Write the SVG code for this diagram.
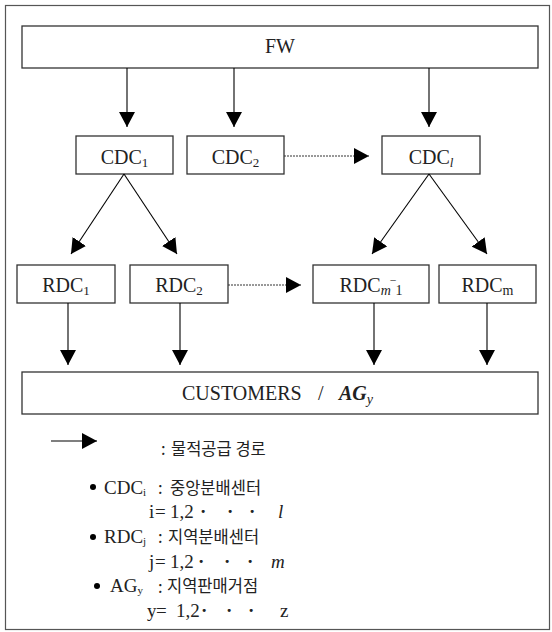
<svg xmlns="http://www.w3.org/2000/svg" width="552" height="632" viewBox="0 0 552 632">
<style>
.box{fill:#fff;stroke:#333;stroke-width:1.3}
.lbl{font-family:"Liberation Serif","Times New Roman",serif;font-size:20px;fill:#222}
.ln{stroke:#000;stroke-width:1.1;fill:none}
.dot{stroke:#333;stroke-width:1;stroke-dasharray:2,1;fill:none}
.lg{font-family:"Liberation Serif","Times New Roman",serif;font-size:19px;fill:#222}
.kr{font-family:"Noto Sans CJK KR","Liberation Serif",sans-serif;font-size:16.5px;fill:#222}
.md{font-weight:bold}
</style>
<defs>
<marker id="ah" viewBox="0 0 15 16" refX="15" refY="8" markerWidth="15" markerHeight="16" orient="auto" markerUnits="userSpaceOnUse">
<path d="M0,0 L15,8 L0,16 z" fill="#000"/>
</marker>
</defs>
<rect x="0" y="0" width="552" height="632" fill="#fff"/>
<rect x="5.5" y="5.5" width="544" height="624" fill="none" stroke="#555" stroke-width="1.2"/>

<g id="FW"><rect class="box" x="22" y="26" width="516" height="42"/><text class="lbl" x="280" y="53" font-size="21" text-anchor="middle">FW</text></g>
<g id="CDC1"><rect class="box" x="76" y="136" width="97" height="38"/><text class="lbl" x="124.5" y="164" text-anchor="middle">CDC<tspan dy="3" font-size="13">1</tspan></text></g>
<g id="CDC2"><rect class="box" x="187" y="136" width="97" height="38"/><text class="lbl" x="235.5" y="164" text-anchor="middle">CDC<tspan dy="3" font-size="13">2</tspan></text></g>
<g id="CDCl"><rect class="box" x="382" y="136" width="98" height="38"/><text class="lbl" x="431" y="164" text-anchor="middle">CDC<tspan dy="3" font-size="13" font-style="italic">l</tspan></text></g>

<g id="RDC1"><rect class="box" x="17" y="265" width="98" height="38"/><text class="lbl" x="66" y="292" text-anchor="middle">RDC<tspan dy="3" font-size="13">1</tspan></text></g>
<g id="RDC2"><rect class="box" x="130" y="265" width="98" height="38"/><text class="lbl" x="179" y="292" text-anchor="middle">RDC<tspan dy="3" font-size="13">2</tspan></text></g>
<g id="RDCm-1"><rect class="box" x="313" y="265" width="116" height="38"/><text class="lbl" x="371" y="292" text-anchor="middle">RDC<tspan dy="3" font-size="14" font-style="italic">m</tspan><tspan dy="-3" font-size="14">‾</tspan><tspan dy="3" font-size="14">1</tspan></text></g>
<g id="RDCm"><rect class="box" x="439" y="265" width="97" height="38"/><text class="lbl" x="487.5" y="292" text-anchor="middle">RDC<tspan dy="3" font-size="14">m</tspan></text></g>

<g id="CUSTOMERS"><rect class="box" x="22" y="372" width="516" height="42"/><text class="lbl" x="182" y="400" font-size="21.5">CUSTOMERS<tspan x="318">/</tspan><tspan x="339" font-style="italic" font-weight="bold">AG</tspan><tspan dy="4" font-size="14" font-style="italic">y</tspan></text></g>

<g id="connectors">
<line class="ln" x1="127" y1="68" x2="127" y2="127" marker-end="url(#ah)"/>
<line class="ln" x1="234" y1="68" x2="234" y2="127" marker-end="url(#ah)"/>
<line class="ln" x1="429" y1="68" x2="429" y2="127" marker-end="url(#ah)"/>
<line class="dot" x1="284" y1="156" x2="369" y2="156" marker-end="url(#ah)"/>
<line class="ln" x1="124" y1="174" x2="71" y2="254" marker-end="url(#ah)"/>
<line class="ln" x1="124" y1="174" x2="177" y2="254" marker-end="url(#ah)"/>
<line class="ln" x1="429" y1="174" x2="372" y2="254" marker-end="url(#ah)"/>
<line class="ln" x1="429" y1="174" x2="487" y2="254" marker-end="url(#ah)"/>
<line class="dot" x1="228" y1="285" x2="301" y2="285" marker-end="url(#ah)"/>
<line class="ln" x1="68" y1="303" x2="68" y2="365" marker-end="url(#ah)"/>
<line class="ln" x1="180" y1="303" x2="180" y2="365" marker-end="url(#ah)"/>
<line class="ln" x1="374" y1="303" x2="374" y2="365" marker-end="url(#ah)"/>
<line class="ln" x1="487" y1="303" x2="487" y2="365" marker-end="url(#ah)"/>
</g>

<g id="legend">
<line class="ln" x1="51" y1="441" x2="97" y2="441" marker-end="url(#ah)"/>
<text class="kr" x="161" y="455">:</text>
<text class="kr" x="171" y="455" font-size="16">물적공급 경로</text>
<circle cx="93" cy="487" r="3"/>
<text class="lg" x="104" y="494">CDC<tspan dy="2" font-size="11">i</tspan></text>
<text class="kr" x="158" y="494">:</text>
<text class="kr" x="170" y="494">중앙분배센터</text>
<text class="lg" x="149" y="518">i<tspan x="155">=</tspan><tspan x="170">1,2</tspan><tspan x="200" class="md">·</tspan><tspan x="227" class="md">·</tspan><tspan x="249" class="md">·</tspan><tspan x="278" font-style="italic">l</tspan></text>
<circle cx="93" cy="537" r="3"/>
<text class="lg" x="104" y="543">RDC<tspan dy="2" font-size="11">j</tspan></text>
<text class="kr" x="158" y="543">:</text>
<text class="kr" x="168" y="543">지역분배센터</text>
<text class="lg" x="149" y="568">j<tspan x="155">=</tspan><tspan x="170">1,2</tspan><tspan x="198" class="md">·</tspan><tspan x="224" class="md">·</tspan><tspan x="247" class="md">·</tspan><tspan x="271" font-style="italic">m</tspan></text>
<circle cx="97" cy="586" r="3"/>
<text class="lg" x="110" y="592">AG<tspan dy="2" font-size="11">y</tspan></text>
<text class="kr" x="158" y="593" font-size="10">:</text>
<text class="kr" x="167" y="592">지역판매거점</text>
<text class="lg" x="147" y="617">y<tspan x="156">=</tspan><tspan x="176">1,2</tspan><tspan x="201" class="md">·</tspan><tspan x="226" class="md">·</tspan><tspan x="248" class="md">·</tspan><tspan x="280">z</tspan></text>
</g>
</svg>
